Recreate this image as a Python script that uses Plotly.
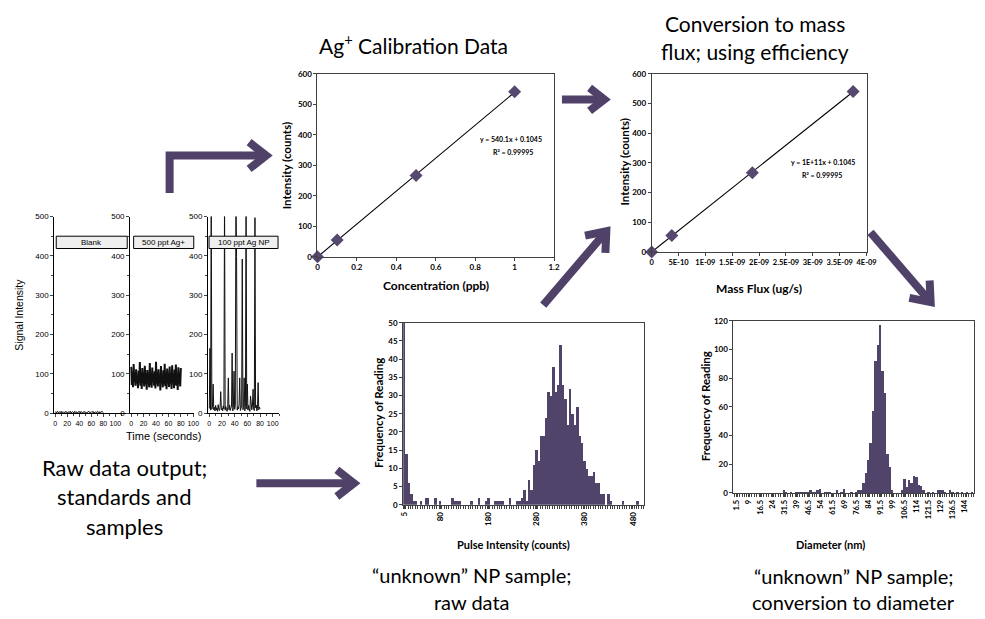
import math
import numpy as np
import plotly.graph_objects as go

# ---------------- DATA ----------------
time_s = list(range(81))
blank_signal = [2,4,1,3,5,2,1,4,3,2,
                5,1,3,4,2,1,3,5,2,4,
                1,2,3,4,2,5,1,3,2,4,
                3,1,5,2,3,4,1,2,4,3,
                2,5,1,3,4,2,1,3,5,2,
                4,3,1,2,4,3,5,2,1,3,
                4,2,3,5,1,2,4,3,2,1,
                5,3,2,4,1,3,2,5,3,4,
                2]
agion_signal = [118,72,104,66,125,80,98,70,112,76,
                95,64,108,78,130,70,100,62,115,82,
                92,68,121,74,102,60,110,79,96,66,
                128,72,99,65,116,84,93,70,107,63,
                131,75,101,68,112,80,94,58,120,77,
                97,66,109,73,126,69,103,61,114,81,
                90,67,119,75,100,62,122,78,95,64,
                111,72,124,70,98,59,117,83,91,68,
                115]
np_signal = [12,165,8,560,10,18,74,9,15,6,
             20,8,14,5,22,10,7,16,55,9,
             13,6,19,11,560,8,17,10,5,14,
             90,9,21,7,12,18,153,6,15,107,
             10,20,560,398,8,16,11,24,90,7,
             13,19,392,9,14,90,6,17,560,11,
             74,8,20,12,5,44,15,9,18,61,
             10,7,497,14,21,6,12,78,9,16,
             11]
panel_labels = ["Blank", "500 ppt Ag+", "100 ppt Ag NP"]

calib_conc = [0, 0.1, 0.5, 1.0]
calib_intensity = [0, 55, 267, 541]
massflux = [0, 3.75e-10, 1.875e-9, 3.75e-9]
massflux_intensity = [0, 55, 267, 541]

pulse_bins = [5 * (i + 1) for i in range(100)]
pulse_counts = [50,14,6,3,1,1,0,1,0,2,
                2,0,0,2,0,1,0,0,0,0,
                2,1,1,1,0,0,0,0,1,0,
                0,2,0,0,1,2,0,0,1,1,
                1,1,0,0,2,0,0,1,1,2,
                4,1,7,4,11,15,12,19,19,24,
                31,30,38,31,33,44,33,29,22,32,
                25,22,27,19,17,12,10,8,8,9,
                6,6,3,3,0,3,1,0,0,0,
                0,1,0,0,0,0,0,1,0,0]
pulse_ticks = [5, 80, 180, 280, 380, 480]

diam_bins = [1.5 * (i + 1) for i in range(100)]
diam_counts = [0,0,0,0,0,0,0,0,0,0,
               0,0,0,0,0,0,0,0,0,0,
               2,1,0,1,0,1,1,1,1,1,
               1,2,1,1,2,3,0,1,1,1,
               0,0,2,0,1,3,0,0,1,0,
               1,2,2,7,14,23,35,57,92,103,
               117,85,70,27,18,2,0,0,0,2,
               10,4,9,7,12,11,6,5,2,0,
               1,0,1,0,2,2,2,1,0,2,
               1,0,1,0,1,0,1,0,1,0]
diam_ticks = [1.5, 9, 16.5, 24, 31.5, 39, 46.5, 54, 61.5, 69, 76.5, 84, 91.5,
              99, 106.5, 114, 121.5, 129, 136.5, 144]

# ---------------- HELPERS ----------------
W, H = 985, 619
def px(x): return x / W
def py(y): return 1 - y / H

PURPLE = "#4f4168"
BAR = "#51446b"
MARK = "#56486f"
XL = "Lato"
AR = "Liberation Sans, Arial"

fig = go.Figure()

# raw panels
raw_sets = [blank_signal, agion_signal, np_signal]
raw_dom = [(51, 125, -1.6, 119.7), (128, 193, -1.6, 101.6), (207, 279, -2.0, 110)]
raw_width = [1.0, 2.0, 1.0]
for i, (ys, (a, b, r0, r1)) in enumerate(zip(raw_sets, raw_dom)):
    n = "" if i == 0 else str(i + 1)
    fig.add_trace(go.Scatter(x=time_s, y=ys, mode="lines",
                             line=dict(color="#111", width=raw_width[i]),
                             xaxis="x" + n, yaxis="y" + n, hoverinfo="skip"))
    fig.update_layout(**{
        "xaxis" + n: dict(domain=[px(a), px(b)], range=[r0, r1], anchor="y" + n,
                          showgrid=False, zeroline=False, showline=True, linecolor="black",
                          linewidth=1, ticks="outside", ticklen=3, tickvals=[0, 20, 40, 60, 80, 100],
                          tickangle=0,
                          minor=dict(ticks="outside", ticklen=2, dtick=10, tick0=0),
                          tickfont=dict(family=AR, size=7, color="black")),
        "yaxis" + n: dict(domain=[py(415), py(215)], range=[0, 500], anchor="x" + n,
                          showgrid=False, zeroline=False, showline=True, linecolor="black",
                          linewidth=1, ticks="outside", ticklen=3, dtick=100,
                          minor=dict(ticks="outside", ticklen=2, dtick=50),
                          tickfont=dict(family=AR, size=8, color="black")),
    })

# strip labels
strip_px = [(53, 125), (131.5, 192.5), (208, 278)]
shapes = []
annotations = []
for (a, b), lab in zip(strip_px, panel_labels):
    shapes.append(dict(type="rect", xref="paper", yref="paper", x0=px(a), x1=px(b),
                       y0=py(247.5), y1=py(235), fillcolor="#efefef",
                       line=dict(color="black", width=1)))
    annotations.append(dict(x=px((a + b) / 2), y=py(241.2), xref="paper", yref="paper",
                            text=lab, showarrow=False, font=dict(family=AR, size=8, color="black"),
                            xanchor="center", yanchor="middle"))

def xl_axes(n, xd, yd, xr, yr, **kw):
    xa = dict(domain=xd, range=xr, anchor="y" + n, showgrid=False, zeroline=False,
              showline=True, mirror=True, linecolor="#404040", linewidth=1,
              ticks="outside", ticklen=3, tickcolor="#404040",
              tickfont=dict(family=XL, size=8, color="black", weight="bold"))
    ya = dict(domain=yd, range=yr, anchor="x" + n, showgrid=False, zeroline=False,
              showline=True, mirror=True, linecolor="#404040", linewidth=1,
              ticks="outside", ticklen=3, tickcolor="#404040",
              tickfont=dict(family=XL, size=8, color="black", weight="bold"))
    xa.update(kw.get("xkw", {}))
    ya.update(kw.get("ykw", {}))
    fig.update_layout(**{"xaxis" + n: xa, "yaxis" + n: ya})

for n, xs, ys in [("4", calib_conc, calib_intensity), ("5", massflux, massflux_intensity)]:
    k, c = np.polyfit(xs, ys, 1)
    fig.add_trace(go.Scatter(x=[0, xs[-1]], y=[c, k * xs[-1] + c], mode="lines",
                             line=dict(color="black", width=1.1), xaxis="x" + n, yaxis="y" + n))
    fig.add_trace(go.Scatter(x=xs, y=ys, mode="markers",
                             marker=dict(symbol="diamond", size=10, color=MARK),
                             xaxis="x" + n, yaxis="y" + n, cliponaxis=False))

xl_axes("4", [px(318), px(558)], [py(256), py(70)], [0, 1.2], [0, 600],
        xkw=dict(tickvals=[0, 0.2, 0.4, 0.6, 0.8, 1, 1.2],
                 ticktext=["0", "0.2", "0.4", "0.6", "0.8", "1", "1.2"]),
        ykw=dict(dtick=100))
mf_ticks = [0, 5e-10, 1e-9, 1.5e-9, 2e-9, 2.5e-9, 3e-9, 3.5e-9, 4e-9]
mf_text = ["0", "5E-10", "1E-09", "1.5E-09", "2E-09", "2.5E-09", "3E-09", "3.5E-09", "4E-09"]
xl_axes("5", [px(657), px(875)], [py(251), py(70)], [0, 4e-9], [0, 600],
        xkw=dict(tickvals=mf_ticks, ticktext=mf_text, tickangle=0,
                 tickfont=dict(family=XL, size=7.5, color="black", weight="bold")),
        ykw=dict(dtick=100))

# histograms
fig.add_trace(go.Bar(x=pulse_bins, y=pulse_counts, width=5, marker=dict(color=BAR, line=dict(width=0)),
                     xaxis="x6", yaxis="y6"))
fig.add_trace(go.Bar(x=diam_bins, y=diam_counts, width=1.5, marker=dict(color=BAR, line=dict(width=0)),
                     xaxis="x7", yaxis="y7"))
xl_axes("6", [px(405), px(649)], [py(508), py(323)], [2.5, 502.5], [0, 50],
        xkw=dict(tickvals=pulse_ticks, tickangle=-90,
                 minor=dict(ticks="outside", ticklen=3, dtick=5, tick0=2.5, tickcolor="#404040")),
        ykw=dict(dtick=5))
xl_axes("7", [px(740), px(984)], [py(496), py(321)], [-0.15, 149.6], [0, 120],
        xkw=dict(tickvals=diam_ticks, ticktext=[("%g" % v) for v in diam_ticks], tickangle=-90,
                 tickfont=dict(family=XL, size=7.5, color="black", weight="bold"),
                 minor=dict(ticks="outside", ticklen=3, dtick=1.5, tick0=0.75, tickcolor="#404040")),
        ykw=dict(dtick=20))

# ---------------- TEXT ----------------
def txt(x, y, s, size, fam=XL, bold=False, angle=0, anchor="center"):
    f = dict(family=fam, size=size, color="black")
    if bold:
        f["weight"] = "bold"
    annotations.append(dict(x=px(x), y=py(y), xref="paper", yref="paper", text=s,
                            showarrow=False, font=f, textangle=angle,
                            xanchor=anchor, yanchor="middle"))

txt(15, 315, "Signal Intensity", 10.5, fam=AR, angle=-90)
txt(162, 438, "Time (seconds)", 11, fam=AR)

txt(286, 163, "Intensity (counts)", 11.5, bold=True, angle=-90)
txt(438, 285, "Concentration (ppb)", 12, bold=True)
txt(514, 136, "y = 540.1x + 0.1045", 7, bold=True)
txt(516, 149, "R² = 0.99995", 7, bold=True)

txt(629, 160, "Intensity (counts)", 11.5, bold=True, angle=-90)
txt(766, 288, "Mass Flux (ug/s)", 12, bold=True)
txt(831, 160, "y = 1E+11x + 0.1045", 7, bold=True)
txt(830, 173, "R² = 0.99995", 7, bold=True)

txt(380, 415, "Frequency of Reading", 11.5, bold=True, angle=-90)
txt(517, 548, "Pulse Intensity (counts)", 11, bold=True)
txt(712, 408, "Frequency of Reading", 11.5, bold=True, angle=-90)
txt(838, 548, "Diameter (nm)", 11, bold=True)

txt(415, 40, "Ag<sup>+</sup> Calibration Data", 21)
txt(762, 19, "Conversion to mass", 21)
txt(762, 47, "flux; using efficiency", 21)

txt(122, 470, "Raw data output;", 22)
txt(122, 500, "standards and", 22)
txt(122, 530, "samples", 22)
txt(475, 579, "“unknown” NP sample;", 20)
txt(475, 607, "raw data", 20)
txt(862, 580, "“unknown” NP sample;", 20)
txt(862, 607, "conversion to diameter", 20)

# ---------------- ARROWS ----------------
def arrow(pts, head=20, ang=38, w=8):
    (x1, y1) = pts[-1]
    (x0, y0) = pts[-2]
    L = math.hypot(x1 - x0, y1 - y0)
    dx, dy = (x1 - x0) / L, (y1 - y0) / L
    shaft = pts[:-1] + [(x1 - dx * w * 0.8, y1 - dy * w * 0.8)]
    path = "M " + " L ".join("%f,%f" % (px(x), py(y)) for x, y in shaft)
    shapes.append(dict(type="path", xref="paper", yref="paper", path=path,
                       line=dict(color=PURPLE, width=w), layer="above"))
    arms = []
    for s in (1, -1):
        a = math.radians(ang) * s
        rx = dx * math.cos(a) - dy * math.sin(a)
        ry = dx * math.sin(a) + dy * math.cos(a)
        arms.append((x1 - rx * head, y1 - ry * head))
    cpath = "M %f,%f L %f,%f L %f,%f" % (px(arms[0][0]), py(arms[0][1]), px(x1), py(y1),
                                         px(arms[1][0]), py(arms[1][1]))
    shapes.append(dict(type="path", xref="paper", yref="paper", path=cpath,
                       line=dict(color=PURPLE, width=w), layer="above"))

arrow([(168, 191), (168, 153), (266, 153)], head=22)
arrow([(566, 96), (609, 96)], head=19)
arrow([(547, 305), (611, 230)], head=22)
arrow([(879, 231), (940, 302)], head=22)
arrow([(256, 486), (355, 486)], head=22)

fig.update_layout(width=W, height=H, margin=dict(l=0, r=0, t=0, b=0),
                  paper_bgcolor="white", plot_bgcolor="rgba(0,0,0,0)",
                  showlegend=False, bargap=0, shapes=shapes, annotations=annotations)

fig.write_html("out.html")
